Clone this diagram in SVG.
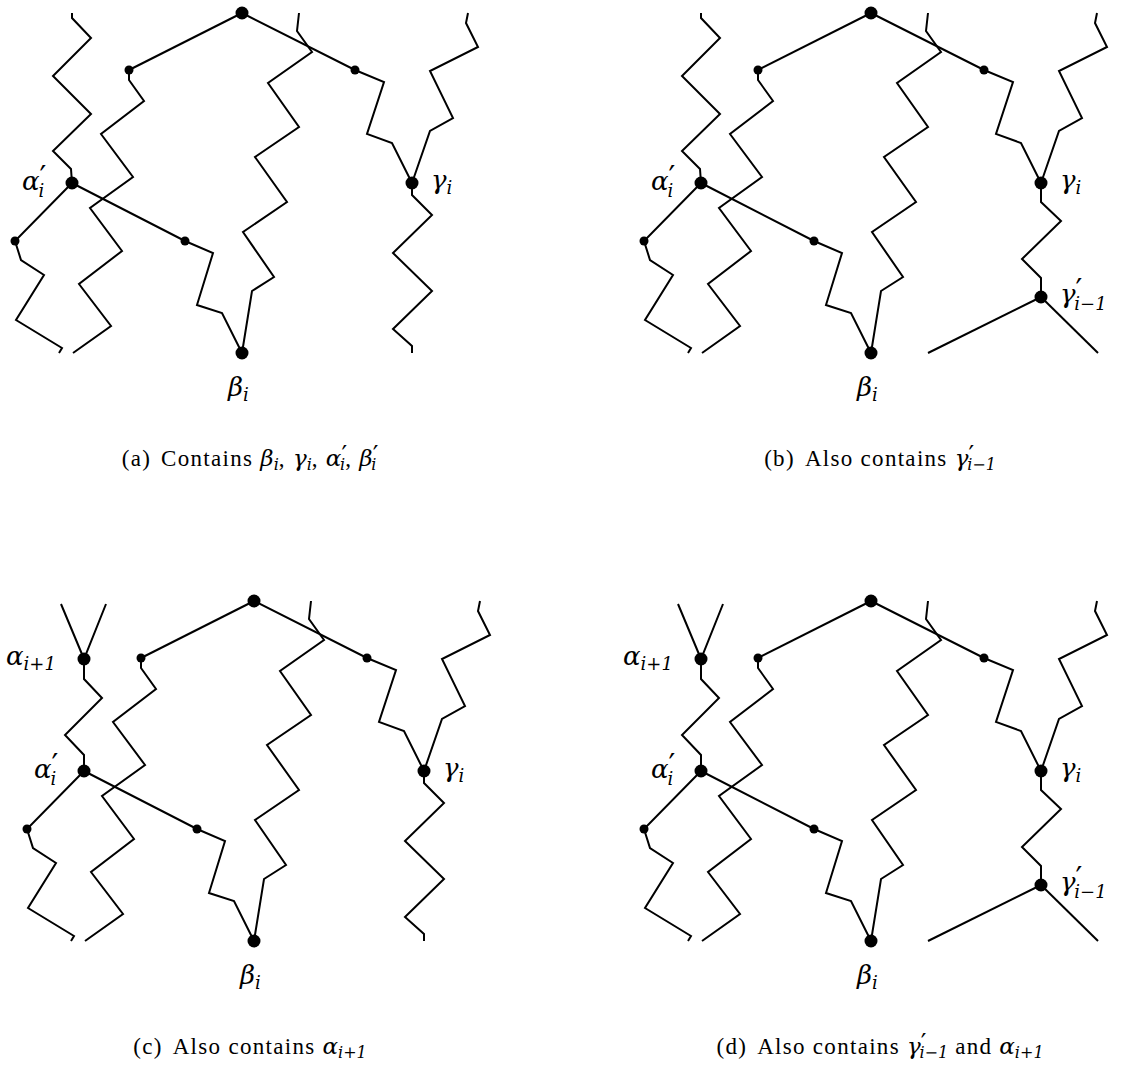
<svg xmlns="http://www.w3.org/2000/svg" width="1122" height="1077" viewBox="0 0 1122 1077">
<style>
.e{fill:none;stroke:#000;stroke-width:2}
.n{fill:#000}
.m{font-family:"DejaVu Serif","Liberation Serif",serif;font-style:italic;font-size:26px;fill:#000}
.s{font-size:18px}
.p{font-family:"DejaVu Sans",sans-serif;font-style:normal;font-size:30px}
.cap{font-family:"Liberation Serif","DejaVu Serif",serif;font-size:23px;letter-spacing:1.3px;fill:#000}
.cg{font-family:"DejaVu Serif",serif;font-style:italic;font-size:23px;letter-spacing:0}
.cs{font-family:"DejaVu Serif",serif;font-style:italic;font-size:16px;letter-spacing:0}
.cp{font-family:"DejaVu Sans",sans-serif;font-style:normal;font-size:25px;letter-spacing:0}
</style>
<rect width="1122" height="1077" fill="#fff"/>

<!-- Panel (a) -->
<g id="panel-a">
<g id="a-connectors" class="e">
<path d="M72,13 L72,18 L91,38 L53,76 L91,114 L53,151 L71,169 L72,183"/>
<path d="M129,70 L129,80 L144,101 L101,134 L133,177 L90,208 L122,251 L79,284 L111,326 L73,353"/>
<path d="M242,13 L129,70"/>
<path d="M242,13 L355,70 L384,82 L367,134 L392,143 L412,183"/>
<path d="M468,13 L466,23 L478,47 L430,71 L453,118 L430,131 L412,183"/>
<path d="M412,183 L412,195 L432,215 L393,253 L432,291 L393,329 L412,346 L412,353"/>
<path d="M72,183 L15,241 L21,260 L44,275 L16,320 L62,348 L59,353"/>
<path d="M72,183 L185,241 L213,253 L197,305 L222,313 L242,353"/>
<path d="M242,353 L252,291 L274,277 L243,232 L287,202 L255,157 L299,127 L268,83 L312,52 L297,31 L299,13"/>
</g>
<g id="a-top"><circle class="n" cx="242" cy="13" r="6.5"/></g>
<g id="a-sL"><circle class="n" cx="129" cy="70" r="4.5"/></g>
<g id="a-sR"><circle class="n" cx="355" cy="70" r="4.5"/></g>
<g id="a-alphap"><circle class="n" cx="72" cy="183" r="6.5"/><text class="m" x="22" y="190">α<tspan class="p" dy="-3">′</tspan><tspan class="s" dx="-8" dy="10">i</tspan></text></g>
<g id="a-gamma"><circle class="n" cx="412" cy="183" r="6.5"/><text class="m" x="431" y="189">γ<tspan class="s" dy="5">i</tspan></text></g>
<g id="a-sLL"><circle class="n" cx="15" cy="241" r="4.5"/></g>
<g id="a-sM"><circle class="n" cx="185" cy="241" r="4.5"/></g>
<g id="a-beta"><circle class="n" cx="242" cy="353" r="6.5"/><text class="m" x="228" y="396">β<tspan class="s" dy="5">i</tspan></text></g>
</g>

<!-- Panel (b) -->
<g id="panel-b" transform="translate(629,0)">
<g id="b-connectors" class="e">
<path d="M72,13 L72,18 L91,38 L53,76 L91,114 L53,151 L71,169 L72,183"/>
<path d="M129,70 L129,80 L144,101 L101,134 L133,177 L90,208 L122,251 L79,284 L111,326 L73,353"/>
<path d="M242,13 L129,70"/>
<path d="M242,13 L355,70 L384,82 L367,134 L392,143 L412,183"/>
<path d="M468,13 L466,23 L478,47 L430,71 L453,118 L430,131 L412,183"/>
<path d="M412,183 L412,202 L432,221 L393,259 L412,278 L412,297"/>
<path d="M412,297 L299,353"/>
<path d="M412,297 L469,353"/>
<path d="M72,183 L15,241 L21,260 L44,275 L16,320 L62,348 L59,353"/>
<path d="M72,183 L185,241 L213,253 L197,305 L222,313 L242,353"/>
<path d="M242,353 L252,291 L274,277 L243,232 L287,202 L255,157 L299,127 L268,83 L312,52 L297,31 L299,13"/>
</g>
<g id="b-top"><circle class="n" cx="242" cy="13" r="6.5"/></g>
<g id="b-sL"><circle class="n" cx="129" cy="70" r="4.5"/></g>
<g id="b-sR"><circle class="n" cx="355" cy="70" r="4.5"/></g>
<g id="b-alphap"><circle class="n" cx="72" cy="183" r="6.5"/><text class="m" x="22" y="190">α<tspan class="p" dy="-3">′</tspan><tspan class="s" dx="-8" dy="10">i</tspan></text></g>
<g id="b-gamma"><circle class="n" cx="412" cy="183" r="6.5"/><text class="m" x="431" y="189">γ<tspan class="s" dy="5">i</tspan></text></g>
<g id="b-gammap"><circle class="n" cx="412" cy="297" r="6.5"/><text class="m" x="431" y="303">γ<tspan class="p" dy="-3">′</tspan><tspan class="s" dx="-8" dy="10">i−1</tspan></text></g>
<g id="b-sLL"><circle class="n" cx="15" cy="241" r="4.5"/></g>
<g id="b-sM"><circle class="n" cx="185" cy="241" r="4.5"/></g>
<g id="b-beta"><circle class="n" cx="242" cy="353" r="6.5"/><text class="m" x="228" y="396">β<tspan class="s" dy="5">i</tspan></text></g>
</g>

<!-- Panel (c) -->
<g id="panel-c" transform="translate(12,588)">
<g id="c-connectors" class="e">
<path d="M49,16 L72,71 L94,16"/>
<path d="M72,71 L72,91 L90,110 L53,147 L72,167 L72,183"/>
<path d="M129,70 L129,80 L144,101 L101,134 L133,177 L90,208 L122,251 L79,284 L111,326 L73,353"/>
<path d="M242,13 L129,70"/>
<path d="M242,13 L355,70 L384,82 L367,134 L392,143 L412,183"/>
<path d="M468,13 L466,23 L478,47 L430,71 L453,118 L430,131 L412,183"/>
<path d="M412,183 L412,195 L432,215 L393,253 L432,291 L393,329 L412,346 L412,353"/>
<path d="M72,183 L15,241 L21,260 L44,275 L16,320 L62,348 L59,353"/>
<path d="M72,183 L185,241 L213,253 L197,305 L222,313 L242,353"/>
<path d="M242,353 L252,291 L274,277 L243,232 L287,202 L255,157 L299,127 L268,83 L312,52 L297,31 L299,13"/>
</g>
<g id="c-top"><circle class="n" cx="242" cy="13" r="6.5"/></g>
<g id="c-alpha1"><circle class="n" cx="72" cy="71" r="6.5"/><text class="m" x="-6" y="77">α<tspan class="s" dy="5">i+1</tspan></text></g>
<g id="c-sL"><circle class="n" cx="129" cy="70" r="4.5"/></g>
<g id="c-sR"><circle class="n" cx="355" cy="70" r="4.5"/></g>
<g id="c-alphap"><circle class="n" cx="72" cy="183" r="6.5"/><text class="m" x="22" y="190">α<tspan class="p" dy="-3">′</tspan><tspan class="s" dx="-8" dy="10">i</tspan></text></g>
<g id="c-gamma"><circle class="n" cx="412" cy="183" r="6.5"/><text class="m" x="431" y="189">γ<tspan class="s" dy="5">i</tspan></text></g>
<g id="c-sLL"><circle class="n" cx="15" cy="241" r="4.5"/></g>
<g id="c-sM"><circle class="n" cx="185" cy="241" r="4.5"/></g>
<g id="c-beta"><circle class="n" cx="242" cy="353" r="6.5"/><text class="m" x="228" y="396">β<tspan class="s" dy="5">i</tspan></text></g>
</g>

<!-- Panel (d) -->
<g id="panel-d" transform="translate(629,588)">
<g id="d-connectors" class="e">
<path d="M49,16 L72,71 L94,16"/>
<path d="M72,71 L72,91 L90,110 L53,147 L72,167 L72,183"/>
<path d="M129,70 L129,80 L144,101 L101,134 L133,177 L90,208 L122,251 L79,284 L111,326 L73,353"/>
<path d="M242,13 L129,70"/>
<path d="M242,13 L355,70 L384,82 L367,134 L392,143 L412,183"/>
<path d="M468,13 L466,23 L478,47 L430,71 L453,118 L430,131 L412,183"/>
<path d="M412,183 L412,202 L432,221 L393,259 L412,278 L412,297"/>
<path d="M412,297 L299,353"/>
<path d="M412,297 L469,353"/>
<path d="M72,183 L15,241 L21,260 L44,275 L16,320 L62,348 L59,353"/>
<path d="M72,183 L185,241 L213,253 L197,305 L222,313 L242,353"/>
<path d="M242,353 L252,291 L274,277 L243,232 L287,202 L255,157 L299,127 L268,83 L312,52 L297,31 L299,13"/>
</g>
<g id="d-top"><circle class="n" cx="242" cy="13" r="6.5"/></g>
<g id="d-alpha1"><circle class="n" cx="72" cy="71" r="6.5"/><text class="m" x="-6" y="77">α<tspan class="s" dy="5">i+1</tspan></text></g>
<g id="d-sL"><circle class="n" cx="129" cy="70" r="4.5"/></g>
<g id="d-sR"><circle class="n" cx="355" cy="70" r="4.5"/></g>
<g id="d-alphap"><circle class="n" cx="72" cy="183" r="6.5"/><text class="m" x="22" y="190">α<tspan class="p" dy="-3">′</tspan><tspan class="s" dx="-8" dy="10">i</tspan></text></g>
<g id="d-gamma"><circle class="n" cx="412" cy="183" r="6.5"/><text class="m" x="431" y="189">γ<tspan class="s" dy="5">i</tspan></text></g>
<g id="d-gammap"><circle class="n" cx="412" cy="297" r="6.5"/><text class="m" x="431" y="303">γ<tspan class="p" dy="-3">′</tspan><tspan class="s" dx="-8" dy="10">i−1</tspan></text></g>
<g id="d-sLL"><circle class="n" cx="15" cy="241" r="4.5"/></g>
<g id="d-sM"><circle class="n" cx="185" cy="241" r="4.5"/></g>
<g id="d-beta"><circle class="n" cx="242" cy="353" r="6.5"/><text class="m" x="228" y="396">β<tspan class="s" dy="5">i</tspan></text></g>
</g>

<!-- Captions -->
<g id="captions">
<text class="cap" x="250" y="466" text-anchor="middle">(a)<tspan dx="10">Contains </tspan><tspan class="cg">β</tspan><tspan class="cs" dy="4">i</tspan><tspan dy="-4">,  </tspan><tspan class="cg">γ</tspan><tspan class="cs" dy="4">i</tspan><tspan dy="-4">,  </tspan><tspan class="cg">α</tspan><tspan class="cp" dy="-3">′</tspan><tspan class="cs" dx="-7" dy="7">i</tspan><tspan dy="-4">,  </tspan><tspan class="cg">β</tspan><tspan class="cp" dy="-3">′</tspan><tspan class="cs" dx="-7" dy="7">i</tspan></text>
<text class="cap" x="880" y="466" text-anchor="middle">(b)<tspan dx="10">Also contains </tspan><tspan class="cg">γ</tspan><tspan class="cp" dy="-3">′</tspan><tspan class="cs" dx="-7" dy="7">i−1</tspan></text>
<text class="cap" x="250" y="1054" text-anchor="middle">(c)<tspan dx="10">Also contains </tspan><tspan class="cg">α</tspan><tspan class="cs" dy="4">i+1</tspan></text>
<text class="cap" x="880" y="1054" text-anchor="middle">(d)<tspan dx="10">Also contains </tspan><tspan class="cg">γ</tspan><tspan class="cp" dy="-3">′</tspan><tspan class="cs" dx="-7" dy="7">i−1</tspan><tspan dy="-4"> and </tspan><tspan class="cg">α</tspan><tspan class="cs" dy="4">i+1</tspan></text>
</g>
</svg>
